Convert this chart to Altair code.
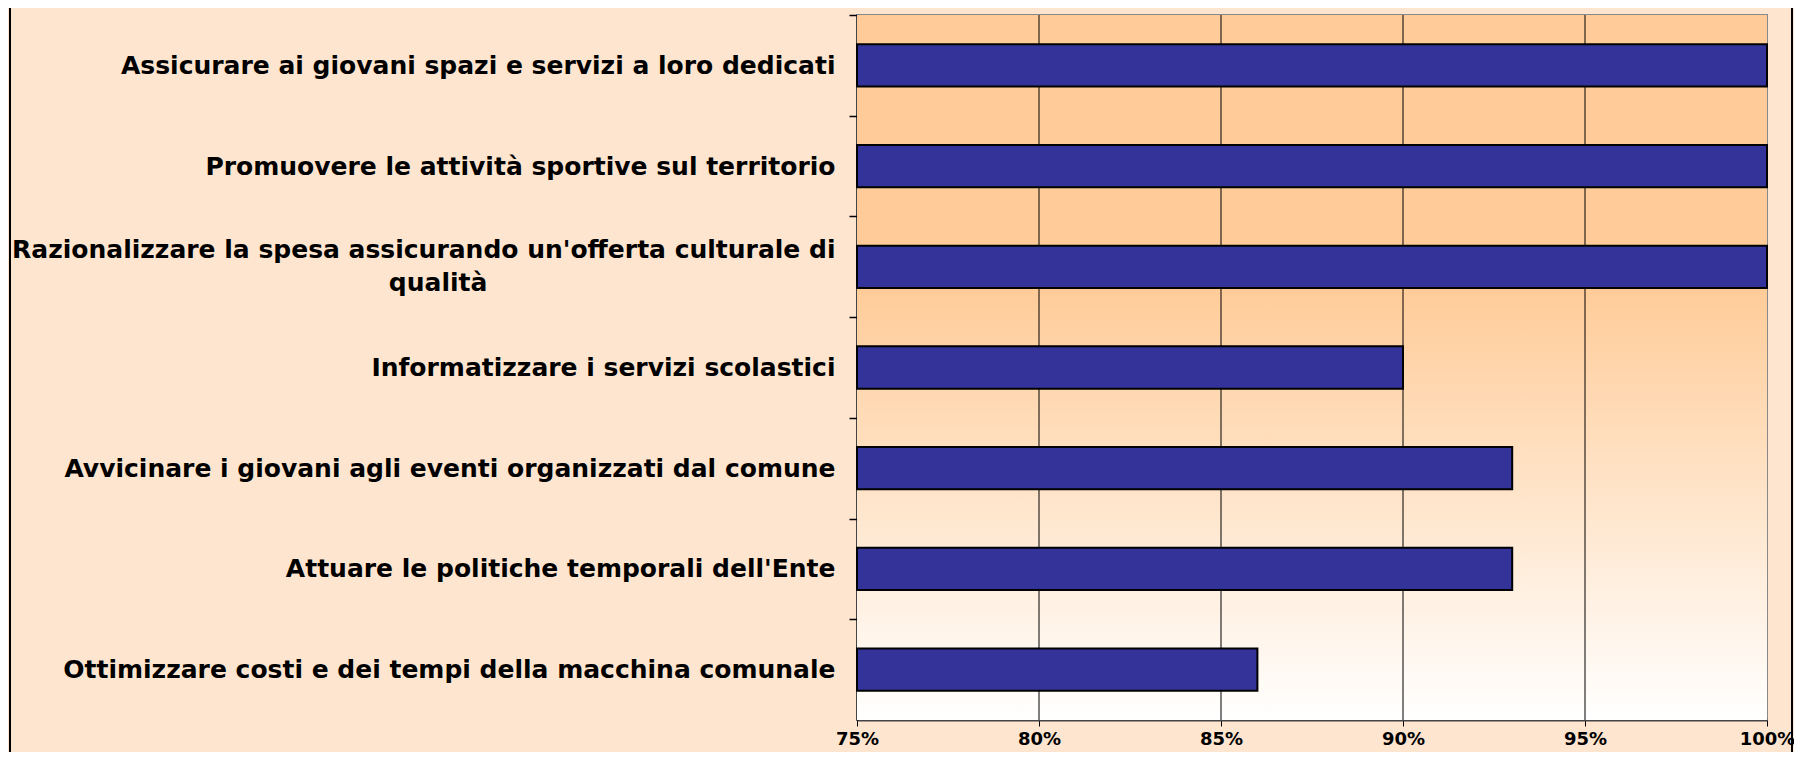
import altair as alt
import pandas as pd

# ---- data ----
categories = [
    "Assicurare ai giovani spazi e servizi a loro dedicati",
    "Promuovere le attività sportive sul territorio",
    "Razionalizzare la spesa assicurando un'offerta culturale di\nqualità",
    "Informatizzare i servizi scolastici",
    "Avvicinare i giovani agli eventi organizzati dal comune",
    "Attuare le politiche temporali dell'Ente",
    "Ottimizzare costi e dei tempi della macchina comunale",
]
values = [1.00, 1.00, 1.00, 0.90, 0.93, 0.93, 0.86]
x_ticks = [0.75, 0.80, 0.85, 0.90, 0.95, 1.00]
grid_ticks = [0.80, 0.85, 0.90, 0.95]

# ---- layout ----
W, H = 910, 705
STEP = H / len(categories)
NBSP_PAD = 40  # centre the second line of a two-line label under the first


def display(lbl):
    parts = lbl.split("\n")
    if len(parts) > 1:
        parts = [parts[0]] + [p + "\u00a0" * NBSP_PAD + "\u2060" for p in parts[1:]]
    return "\n".join(parts)


disp = [display(c) for c in categories]
df = pd.DataFrame({"cat": disp, "val": values})
grid_df = pd.DataFrame({"g": grid_ticks})
bg_df = pd.DataFrame({"k": [0]})

FONT = "DejaVu Sans"
xscale = alt.Scale(domain=[x_ticks[0], x_ticks[-1]], nice=False, zero=False)
yscale = alt.Scale(domain=disp, paddingInner=0.58, paddingOuter=0.29)

background = alt.Chart(bg_df).mark_rect(
    color=alt.Gradient(
        gradient="linear",
        x1=0, x2=0, y1=0, y2=1,
        stops=[
            alt.GradientStop(offset=0, color="#FFCC99"),
            alt.GradientStop(offset=0.39, color="#FFCC99"),
            alt.GradientStop(offset=1, color="#FFFFFF"),
        ],
    )
).encode(
    x=alt.value(0), x2=alt.value(W), y=alt.value(0), y2=alt.value(H)
)

frame = alt.Chart(bg_df).mark_rect(
    filled=False, stroke="black", strokeWidth=2
).encode(
    x=alt.value(-847), x2=alt.value(W + 25), y=alt.value(-40), y2=alt.value(H + 80)
)

grid = alt.Chart(grid_df).mark_rule(color="black", strokeWidth=1).encode(
    x=alt.X("g:Q", scale=xscale)
)

bars = alt.Chart(df).mark_bar(
    color="#333399", stroke="black", strokeWidth=2
).encode(
    x=alt.X(
        "val:Q",
        scale=xscale,
        title=None,
        axis=alt.Axis(
            values=x_ticks,
            format=".0%",
            grid=False,
            domainColor="#444444",
            domainWidth=2,
            tickColor="black",
            tickWidth=1,
            tickSize=6,
            labelFont=FONT,
            labelFontWeight="bold",
            labelFontSize=18,
            labelColor="black",
            labelPadding=4,
            labelFlush=False,
            labelOverlap=False,
        ),
    ),
    x2=alt.datum(x_ticks[0]),
    y=alt.Y(
        "cat:N",
        scale=yscale,
        sort=disp,
        title=None,
        axis=alt.Axis(
            labelExpr="split(datum.value, '\\n')",
            domainColor="black",
            domainWidth=2,
            tickColor="black",
            tickWidth=1.5,
            tickSize=8,
            tickOffset=-STEP / 2,
            labelOffset=STEP / 2,
            labelFont=FONT,
            labelFontWeight="bold",
            labelFontSize=25,
            labelLineHeight=33,
            labelColor="black",
            labelPadding=14,
            labelLimit=0,
            labelAlign="right",
            labelBaseline={
                "condition": {
                    "test": "indexof(datum.value, '\\n') >= 0",
                    "value": "line-bottom",
                },
                "value": "middle",
            },
        ),
    ),
)

chart = alt.layer(background, grid, bars, frame).properties(
    width=W,
    height=H,
    autosize=alt.AutoSizeParams(type="none"),
    padding={"left": 849, "top": 7, "right": 27, "bottom": 32},
    background="#FEE5CF",
).configure_view(
    stroke="#888888", strokeWidth=2
)

chart.save("out.html", embed_options={"renderer": "svg", "actions": False})
